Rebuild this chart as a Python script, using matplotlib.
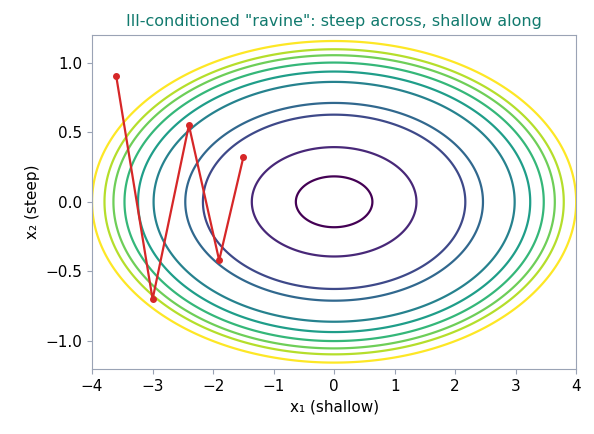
import numpy as np
import matplotlib
matplotlib.use("Agg")
import matplotlib.pyplot as plt

levels = [0.4, 1.85, 4.7, 6.05, 8.9, 10.5, 12.0, 13.3, 14.4, 16.0]
path_x = [-3.6, -3.0, -2.4, -1.9, -1.5]
path_y = [0.9, -0.7, 0.55, -0.42, 0.32]

fig, ax = plt.subplots(figsize=(5.94, 4.34), dpi=100)
x = np.linspace(-4.2, 4.2, 600)
y = np.linspace(-1.3, 1.3, 400)
X, Y = np.meshgrid(x, y)
Z = X**2 + 12 * Y**2
cols = [plt.cm.viridis(t) for t in np.linspace(0, 1, len(levels))]
ax.contour(X, Y, Z, levels=levels, colors=cols, linewidths=1.6)
ax.plot(path_x, path_y, color="#d62728", lw=1.6, marker="o", ms=4)
ax.set_xlim(-4, 4)
ax.set_ylim(-1.2, 1.2)
ax.set_xticks(range(-4, 5))
ax.set_yticks([-1.0, -0.5, 0.0, 0.5, 1.0])
ax.set_xlabel("x₁ (shallow)", fontsize=11)
ax.set_ylabel("x₂ (steep)", fontsize=11)
ax.set_title('Ill-conditioned "ravine": steep across, shallow along', color="#127a6e", fontsize=11.5)
ax.tick_params(labelsize=11, color="#9aa3b5")
for s in ax.spines.values():
    s.set_color("#9aa3b5")
fig.subplots_adjust(left=0.155, right=0.97, bottom=0.15, top=0.92)
fig.savefig("out.png")
